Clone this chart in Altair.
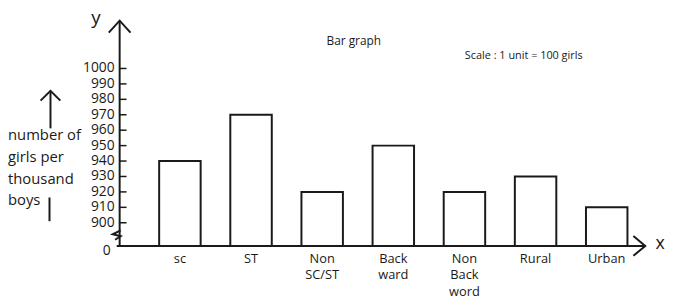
import altair as alt
import pandas as pd

# ---------------- data ----------------
categories = ["sc", "ST", "Non SC/ST", "Backward", "Non Backword", "Rural", "Urban"]
x_labels = ["sc", "ST", "Non\nSC/ST", "Back\nward", "Non\nBack\nword", "Rural", "Urban"]
girls_per_thousand = [940, 970, 920, 950, 920, 930, 910]
y_tick_values = [900, 910, 920, 930, 940, 950, 960, 970, 980, 990, 1000]
axis_break_value = 885      # where the broken axis meets the x axis (labelled 0)
axis_top_value = 1031
title_text = "Bar graph"
scale_text = "Scale : 1 unit = 100 girls"
y_title_text = "number of\ngirls per\nthousand\n boys"

# ---------------- style ----------------
W, H = 532, 228
FONT = "Open Sans"
INK = "#1a1a1a"

bars_df = pd.DataFrame({
    "category": categories,
    "label": x_labels,
    "value": girls_per_thousand,
    "base": [axis_break_value] * len(categories),
})
ticks_df = pd.DataFrame({"tick": y_tick_values})
one = pd.DataFrame({"k": [0]})

xscale = alt.Scale(domain=categories, range=[25, 529], paddingInner=0.417, paddingOuter=0.2085)
yscale = alt.Scale(domain=[axis_break_value, axis_top_value], zero=False, nice=False)

bars = alt.Chart(bars_df).mark_bar(fill="white", stroke=INK, strokeWidth=2).encode(
    x=alt.X("category:N", scale=xscale, sort=categories, axis=None),
    y=alt.Y("value:Q", scale=yscale, axis=None),
    y2="base:Q",
)

ticks = alt.Chart(ticks_df).mark_rule(stroke=INK, strokeWidth=1.5).encode(
    y=alt.Y("tick:Q", scale=yscale, axis=None),
    x=alt.value(0), x2=alt.value(7),
)
tick_labels = alt.Chart(ticks_df).mark_text(
    font=FONT, fontSize=14, color=INK, align="right", baseline="middle"
).encode(
    y=alt.Y("tick:Q", scale=yscale, axis=None),
    x=alt.value(-5),
    text="tick:Q",
)

zero_label = alt.Chart(one).mark_text(
    font=FONT, fontSize=14, color=INK, align="right", baseline="middle", dy=5
).encode(x=alt.value(-9), y=alt.datum(axis_break_value, scale=yscale), text=alt.value("0"))

xlabels = alt.Chart(bars_df).mark_text(
    font=FONT, fontSize=13, color=INK, align="center", baseline="top", lineBreak="\n", lineHeight=17
).encode(
    x=alt.X("category:N", scale=xscale, sort=categories, axis=None),
    y=alt.value(H + 7),
    text="label:N",
)

y_axis_line = alt.Chart(one).mark_rule(stroke=INK, strokeWidth=2).encode(
    x=alt.value(0), y=alt.value(0), y2=alt.value(H))
x_axis_line = alt.Chart(one).mark_rule(stroke=INK, strokeWidth=2).encode(
    x=alt.value(-3), x2=alt.value(W), y=alt.value(H))

up_head = alt.Chart(one).mark_point(
    shape="M-1,1.1L0,0L1,1.1", size=484, filled=False, stroke=INK, strokeWidth=2, opacity=1
).encode(x=alt.value(0), y=alt.value(0))
right_head = alt.Chart(one).mark_point(
    shape="M-1.2,-1L0,0L-1.2,1", size=400, filled=False, stroke=INK, strokeWidth=2, opacity=1
).encode(x=alt.value(W), y=alt.value(H))
zigzag = alt.Chart(one).mark_point(
    shape="M1,-1.2L-1,-0.2L1,0.3L-0.4,1.2", size=64, filled=False, stroke=INK, strokeWidth=2, opacity=1
).encode(x=alt.value(-3), y=alt.value(H - 11))

y_letter = alt.Chart(one).mark_text(font=FONT, fontSize=19, color=INK, align="center", baseline="alphabetic").encode(
    x=alt.value(-24), y=alt.value(3), text=alt.value("y"))
x_letter = alt.Chart(one).mark_text(font=FONT, fontSize=18, color=INK, align="center", baseline="middle").encode(
    x=alt.value(W + 15), y=alt.value(H - 2), text=alt.value("x"))

title = alt.Chart(one).mark_text(font=FONT, fontSize=12, color=INK, align="center", baseline="middle").encode(
    x=alt.value(237), y=alt.value(21), text=alt.value(title_text))
scale_note = alt.Chart(one).mark_text(font=FONT, fontSize=11, color=INK, align="center", baseline="middle").encode(
    x=alt.value(409), y=alt.value(36), text=alt.value(scale_text))

y_title = alt.Chart(one).mark_text(
    font=FONT, fontSize=15, color=INK, align="left", baseline="middle", lineBreak="\n", lineHeight=22
).encode(x=alt.value(-113), y=alt.value(116), text=alt.value(y_title_text))
title_arrow_line = alt.Chart(one).mark_rule(stroke=INK, strokeWidth=2).encode(
    x=alt.value(-70), y=alt.value(71), y2=alt.value(109))
title_arrow_head = alt.Chart(one).mark_point(
    shape="M-1,1L0,0L1,1", size=400, filled=False, stroke=INK, strokeWidth=2, opacity=1
).encode(x=alt.value(-70), y=alt.value(71))
boys_bar = alt.Chart(one).mark_rule(stroke=INK, strokeWidth=2).encode(
    x=alt.value(-71), y=alt.value(179), y2=alt.value(203))

chart = alt.layer(
    bars, ticks, tick_labels, zero_label, xlabels, y_axis_line, x_axis_line, up_head, right_head, zigzag,
    y_letter, x_letter, title, scale_note, y_title, title_arrow_line, title_arrow_head, boys_bar,
).properties(
    width=W, height=H,
    padding={"left": 113, "top": 11, "right": 20, "bottom": 57},
    autosize=alt.AutoSizeParams(type="none"),
    background="white",
).configure_view(stroke=None)

chart.save("out.html", embed_options={"renderer": "svg", "actions": False})
